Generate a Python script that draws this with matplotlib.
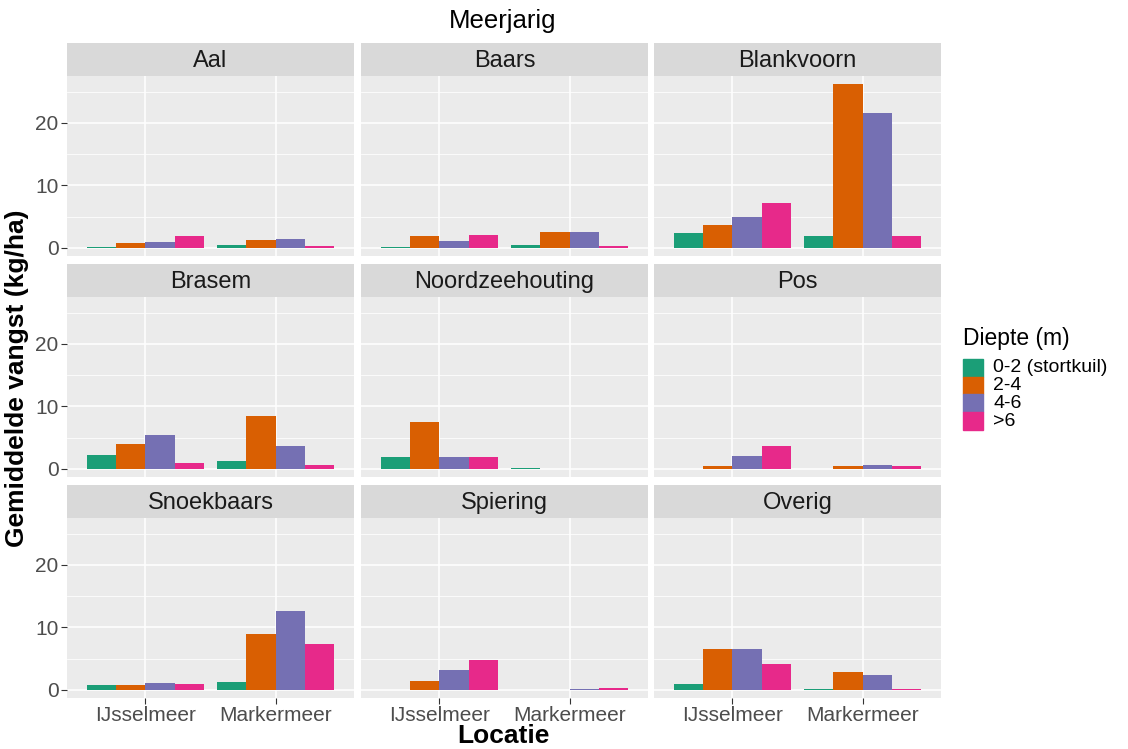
import numpy as np
import matplotlib
matplotlib.use('Agg')
from matplotlib import pyplot as plt

plt.rcParams['font.family'] = ['Liberation Sans', 'DejaVu Sans']

# data: values per species, order [IJsselmeer, Markermeer] per depth class
species = ['Aal', 'Baars', 'Blankvoorn', 'Brasem', 'Noordzeehouting', 'Pos',
           'Snoekbaars', 'Spiering', 'Overig']
locations = ['IJsselmeer', 'Markermeer']
depths = ['0-2 (stortkuil)', '2-4', '4-6', '>6']
colors = ['#1B9E77', '#D95F02', '#7570B3', '#E7298A']

d_0_2 = {'Aal': [0.16, 0.43], 'Baars': [0.1, 0.43], 'Blankvoorn': [2.45, 1.92],
         'Brasem': [2.25, 1.23], 'Noordzeehouting': [1.87, 0.1],
         'Pos': [0.05, 0.0], 'Snoekbaars': [0.75, 1.28],
         'Spiering': [0.05, 0.0], 'Overig': [0.9, 0.2]}
d_2_4 = {'Aal': [0.85, 1.28], 'Baars': [1.92, 2.5], 'Blankvoorn': [3.73, 26.2],
         'Brasem': [3.96, 8.5], 'Noordzeehouting': [7.49, 0.02],
         'Pos': [0.48, 0.43], 'Snoekbaars': [0.85, 9.0],
         'Spiering': [1.44, 0.03], 'Overig': [6.56, 2.83]}
d_4_6 = {'Aal': [0.96, 1.49], 'Baars': [1.07, 2.6], 'Blankvoorn': [4.9, 21.65],
         'Brasem': [5.35, 3.58], 'Noordzeehouting': [1.87, 0.0],
         'Pos': [2.0, 0.64], 'Snoekbaars': [1.17, 12.6],
         'Spiering': [3.2, 0.16], 'Overig': [6.56, 2.3]}
d_gt6 = {'Aal': [1.87, 0.27], 'Baars': [2.13, 0.37], 'Blankvoorn': [7.25, 1.87],
         'Brasem': [0.91, 0.59], 'Noordzeehouting': [1.87, 0.0],
         'Pos': [3.6, 0.48], 'Snoekbaars': [0.9, 7.3],
         'Spiering': [4.85, 0.37], 'Overig': [4.2, 0.1]}
series = [d_0_2, d_2_4, d_4_6, d_gt6]

W, H = 1128, 749
fig = plt.figure(figsize=(W / 100, H / 100), dpi=100)


def box(x, y, w, h):
    return [x / W, 1 - (y + h) / H, w / W, h / H]


lefts = [67, 361, 654]
tops = [43, 264, 485]
pw, sh, ph = 287, 33, 180

ymax = max(max(max(v) for v in s.values()) for s in series)
ylim = (-0.05 * ymax, 1.05 * ymax)
bw = 0.9 / 4

for i, sp in enumerate(species):
    r, c = divmod(i, 3)
    # strip
    sax = fig.add_axes(box(lefts[c], tops[r], pw, sh))
    sax.set_facecolor('#D9D9D9')
    sax.set_xticks([])
    sax.set_yticks([])
    for s in sax.spines.values():
        s.set_visible(False)
    sax.text(0.5, 0.45, sp, ha='center', va='center', fontsize=17,
             color='#1A1A1A', transform=sax.transAxes)
    # panel
    ax = fig.add_axes(box(lefts[c], tops[r] + sh, pw, ph))
    ax.set_facecolor('#EBEBEB')
    ax.set_axisbelow(True)
    x = np.arange(1, len(locations) + 1)
    for k, s in enumerate(series):
        ax.bar(x - 0.45 + bw * (k + 0.5), s[sp], width=bw, color=colors[k],
               linewidth=0)
    ax.set_xlim(0.4, 2.6)
    ax.set_ylim(*ylim)
    ax.set_yticks([0, 10, 20])
    ax.set_yticks([5, 15, 25], minor=True)
    ax.set_xticks(x)
    ax.grid(which='major', color='white', linewidth=1.1)
    ax.grid(which='minor', axis='y', color='white', linewidth=0.55)
    for s in ax.spines.values():
        s.set_visible(False)
    ax.tick_params(which='minor', length=0)
    ax.tick_params(which='major', color='#333333', length=4, width=0.8,
                   pad=2)
    if c == 0:
        ax.set_yticklabels(['0', '10', '20'], fontsize=15, color='#4D4D4D')
    else:
        ax.tick_params(axis='y', which='major', length=0, labelleft=False)
    if r == 2:
        ax.set_xticklabels(locations, fontsize=15, color='#4D4D4D')
    else:
        ax.tick_params(axis='x', which='major', length=0, labelbottom=False)

fig.text(503 / W, 1 - 21 / H, 'Meerjarig', ha='center', va='center',
         fontsize=18.5, color='black')
fig.text(503 / W, 1 - 736 / H, 'Locatie', ha='center', va='center',
         fontsize=19, fontweight='bold')
fig.text(17 / W, 1 - 378 / H, 'Gemiddelde vangst (kg/ha)', ha='center',
         va='center', rotation=90, fontsize=19, fontweight='bold')

# legend
fig.text(963 / W, 1 - 338 / H, 'Diepte (m)', ha='left', va='center',
         fontsize=16.5)
for k, lab in enumerate(depths):
    y0 = 359 + k * 17.7
    fig.patches.append(plt.Rectangle((963 / W, 1 - (y0 + 17.7) / H), 20 / W,
                                     17.7 / H, transform=fig.transFigure,
                                     color=colors[k], figure=fig))
    fig.text(993 / W, 1 - (y0 + 9) / H, lab, ha='left', va='center',
             fontsize=14)

fig.savefig('out.png', dpi=100)
